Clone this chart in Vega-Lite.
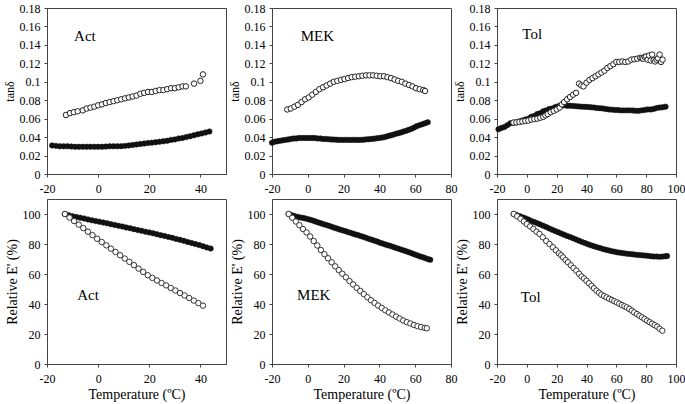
{
  "$schema": "https://vega.github.io/schema/vega-lite/v6.json",
  "padding": {"left": 2, "top": 1, "right": 0, "bottom": 2},
  "background": "white",
  "bounds": "flush",
  "columns": 3,
  "spacing": {"row": 25, "column": 46},
  "config": {
    "font": "Times New Roman",
    "style": {"guide-label": {"font": "Times New Roman"}, "guide-title": {"font": "Times New Roman"}},
    "view": {"stroke": "#444", "strokeWidth": 1},
    "axis": {"labelFont": "Times New Roman", "labelFontSize": 12, "labelColor": "#000", "titleFont": "Times New Roman", "titleFontWeight": "normal", "titleColor": "#000", "titleFontSize": 14, "domainColor": "#444", "tickColor": "#444", "tickSize": 3, "grid": false, "labelFlush": false, "labelOverlap": false},
    "axisX": {"labelPadding": 6, "titlePadding": 3},
    "axisY": {"labelPadding": 4, "titlePadding": 3}
  },
  "datasets": {
    "actTanO": [{"T":-12.6,"v":0.064},{"T":-11,"v":0.066},{"T":-9.5,"v":0.067},{"T":-8,"v":0.068},{"T":-6,"v":0.069},{"T":-4.5,"v":0.071},{"T":-3,"v":0.072},{"T":-1.5,"v":0.073},{"T":0,"v":0.0745},{"T":1.5,"v":0.0755},{"T":3,"v":0.077},{"T":4.5,"v":0.078},{"T":6,"v":0.079},{"T":7.5,"v":0.080},{"T":9,"v":0.081},{"T":10.5,"v":0.082},{"T":12,"v":0.083},{"T":13.5,"v":0.084},{"T":15,"v":0.085},{"T":16.5,"v":0.087},{"T":18,"v":0.088},{"T":19.5,"v":0.089},{"T":21,"v":0.089},{"T":22.5,"v":0.090},{"T":24,"v":0.091},{"T":25.5,"v":0.091},{"T":27,"v":0.092},{"T":28.5,"v":0.093},{"T":30,"v":0.093},{"T":31.5,"v":0.094},{"T":33,"v":0.095},{"T":34.3,"v":0.095},{"T":37.5,"v":0.098},{"T":40,"v":0.101},{"T":41,"v":0.108}],
    "actTanF": [{"T":-18,"v":0.031},{"T":-16.5,"v":0.0305},{"T":-15,"v":0.030},{"T":-13.5,"v":0.030},{"T":-12,"v":0.030},{"T":-10.5,"v":0.0298},{"T":-9,"v":0.0295},{"T":-7.5,"v":0.0295},{"T":-6,"v":0.0295},{"T":-4.5,"v":0.0295},{"T":-3,"v":0.0295},{"T":-1.5,"v":0.0295},{"T":0,"v":0.0295},{"T":1.5,"v":0.0295},{"T":3,"v":0.0297},{"T":4.5,"v":0.030},{"T":6,"v":0.030},{"T":7.5,"v":0.030},{"T":9,"v":0.0302},{"T":10.5,"v":0.0305},{"T":12,"v":0.031},{"T":13.5,"v":0.0315},{"T":15,"v":0.032},{"T":16.5,"v":0.0325},{"T":18,"v":0.033},{"T":19.5,"v":0.0335},{"T":21,"v":0.034},{"T":22.5,"v":0.0345},{"T":24,"v":0.035},{"T":25.5,"v":0.0355},{"T":27,"v":0.036},{"T":28.5,"v":0.037},{"T":30,"v":0.0375},{"T":31.5,"v":0.0385},{"T":33,"v":0.039},{"T":34.5,"v":0.040},{"T":36,"v":0.041},{"T":37.5,"v":0.042},{"T":39,"v":0.043},{"T":40.5,"v":0.044},{"T":42,"v":0.045},{"T":43.5,"v":0.046}],
    "actEO": [{"T":-13,"v":100},{"T":-11.2,"v":97.6},{"T":-9.4,"v":95.3},{"T":-7.6,"v":92.9},{"T":-5.8,"v":90.6},{"T":-4,"v":88.2},{"T":-2.2,"v":85.9},{"T":-0.4,"v":83.5},{"T":1.4,"v":81.3},{"T":3.2,"v":79.1},{"T":5,"v":76.9},{"T":6.8,"v":74.7},{"T":8.6,"v":72.5},{"T":10.4,"v":70.3},{"T":12.2,"v":68.1},{"T":14,"v":65.9},{"T":15.8,"v":63.6},{"T":17.6,"v":61.4},{"T":19.4,"v":59.2},{"T":21.2,"v":57.4},{"T":23,"v":55.7},{"T":24.8,"v":54},{"T":26.6,"v":52.4},{"T":28.4,"v":50.7},{"T":30.2,"v":49},{"T":32,"v":47.3},{"T":33.8,"v":45.7},{"T":35.6,"v":44},{"T":37.4,"v":42.3},{"T":39.2,"v":40.6},{"T":41,"v":38.9}],
    "actEF": [{"T":-13,"v":100},{"T":-11.5,"v":99.2},{"T":-10,"v":98.5},{"T":-8.5,"v":98},{"T":-7,"v":97.5},{"T":-5.5,"v":97},{"T":-4,"v":96.4},{"T":-2.5,"v":95.8},{"T":-1,"v":95.3},{"T":0.5,"v":94.8},{"T":2,"v":94.3},{"T":3.5,"v":93.8},{"T":5,"v":93.2},{"T":6.5,"v":92.7},{"T":8,"v":92.1},{"T":9.5,"v":91.6},{"T":11,"v":91},{"T":12.5,"v":90.5},{"T":14,"v":89.9},{"T":15.5,"v":89.3},{"T":17,"v":88.8},{"T":18.5,"v":88.2},{"T":20,"v":87.7},{"T":21.5,"v":87.1},{"T":23,"v":86.5},{"T":24.5,"v":85.9},{"T":26,"v":85.3},{"T":27.5,"v":84.7},{"T":29,"v":84.1},{"T":30.5,"v":83.4},{"T":32,"v":82.8},{"T":33.5,"v":82.1},{"T":35,"v":81.4},{"T":36.5,"v":80.7},{"T":38,"v":80},{"T":39.5,"v":79.3},{"T":41,"v":78.5},{"T":42.5,"v":77.7},{"T":44,"v":77}],
    "mekTanO": [{"T":-11.5,"v":0.070},{"T":-9.5,"v":0.071},{"T":-7.5,"v":0.073},{"T":-5.5,"v":0.075},{"T":-3.5,"v":0.078},{"T":-1.5,"v":0.081},{"T":0.5,"v":0.083},{"T":2.5,"v":0.086},{"T":4.5,"v":0.089},{"T":6.5,"v":0.092},{"T":8.5,"v":0.094},{"T":10.5,"v":0.096},{"T":12.5,"v":0.098},{"T":14.5,"v":0.100},{"T":16.5,"v":0.101},{"T":18.5,"v":0.102},{"T":20.5,"v":0.103},{"T":22.5,"v":0.104},{"T":24.5,"v":0.105},{"T":26.5,"v":0.1055},{"T":28.5,"v":0.106},{"T":30.5,"v":0.1065},{"T":32.5,"v":0.107},{"T":34.5,"v":0.107},{"T":36.5,"v":0.107},{"T":38.5,"v":0.1065},{"T":40.5,"v":0.106},{"T":42.5,"v":0.106},{"T":44.5,"v":0.105},{"T":46.5,"v":0.104},{"T":48.5,"v":0.1025},{"T":50.5,"v":0.101},{"T":52.5,"v":0.100},{"T":54.5,"v":0.098},{"T":56.5,"v":0.0965},{"T":58.5,"v":0.095},{"T":60.5,"v":0.093},{"T":62.5,"v":0.092},{"T":64.5,"v":0.091},{"T":65.5,"v":0.090}],
    "mekTanF": [{"T":-20,"v":0.034},{"T":-18.5,"v":0.035},{"T":-17,"v":0.0355},{"T":-15.5,"v":0.036},{"T":-14,"v":0.0365},{"T":-12.5,"v":0.037},{"T":-11,"v":0.0375},{"T":-9.5,"v":0.038},{"T":-8,"v":0.0385},{"T":-6.5,"v":0.0385},{"T":-5,"v":0.039},{"T":-3.5,"v":0.039},{"T":-2,"v":0.039},{"T":-0.5,"v":0.039},{"T":1,"v":0.039},{"T":2.5,"v":0.039},{"T":4,"v":0.039},{"T":5.5,"v":0.0385},{"T":7,"v":0.0385},{"T":8.5,"v":0.038},{"T":10,"v":0.038},{"T":11.5,"v":0.0378},{"T":13,"v":0.0375},{"T":14.5,"v":0.0373},{"T":16,"v":0.0372},{"T":17.5,"v":0.037},{"T":19,"v":0.037},{"T":20.5,"v":0.037},{"T":22,"v":0.037},{"T":23.5,"v":0.037},{"T":25,"v":0.037},{"T":26.5,"v":0.037},{"T":28,"v":0.037},{"T":29.5,"v":0.037},{"T":31,"v":0.0372},{"T":32.5,"v":0.0375},{"T":34,"v":0.0378},{"T":35.5,"v":0.038},{"T":37,"v":0.0383},{"T":38.5,"v":0.0387},{"T":40,"v":0.039},{"T":41.5,"v":0.0395},{"T":43,"v":0.040},{"T":44.5,"v":0.041},{"T":46,"v":0.0418},{"T":47.5,"v":0.0425},{"T":49,"v":0.0435},{"T":50.5,"v":0.0443},{"T":52,"v":0.045},{"T":53.5,"v":0.046},{"T":55,"v":0.047},{"T":56.5,"v":0.048},{"T":58,"v":0.049},{"T":59.5,"v":0.0505},{"T":61,"v":0.052},{"T":62.5,"v":0.053},{"T":64,"v":0.054},{"T":65.5,"v":0.055},{"T":67,"v":0.056}],
    "mekEO": [{"T":-10.7,"v":100},{"T":-8.7,"v":97.5},{"T":-6.7,"v":95},{"T":-4.7,"v":92.5},{"T":-2.7,"v":90},{"T":-0.7,"v":87.7},{"T":1.3,"v":85},{"T":3.3,"v":82},{"T":5.3,"v":79},{"T":7.3,"v":76},{"T":9.3,"v":73.2},{"T":11.3,"v":70.5},{"T":13.3,"v":67.8},{"T":15.3,"v":65.1},{"T":17.3,"v":62.6},{"T":19.3,"v":60.2},{"T":21.3,"v":57.8},{"T":23.3,"v":55.3},{"T":25.3,"v":53},{"T":27.3,"v":50.8},{"T":29.3,"v":48.7},{"T":31.3,"v":46.6},{"T":33.3,"v":44.5},{"T":35.3,"v":42.5},{"T":37.3,"v":40.7},{"T":39.3,"v":39},{"T":41.3,"v":37.4},{"T":43.3,"v":35.8},{"T":45.3,"v":34.4},{"T":47.3,"v":33},{"T":49.3,"v":31.6},{"T":51.3,"v":30.3},{"T":53.3,"v":29},{"T":55.3,"v":27.9},{"T":57.3,"v":27},{"T":59.3,"v":26},{"T":61.3,"v":25.2},{"T":63.3,"v":24.6},{"T":65.3,"v":24.1},{"T":66.5,"v":23.8}],
    "mekEF": [{"T":-10.7,"v":100},{"T":-9.2,"v":99.3},{"T":-7.7,"v":98.7},{"T":-6.2,"v":98.2},{"T":-4.7,"v":97.8},{"T":-3.2,"v":97.5},{"T":-1.7,"v":97.1},{"T":-0.2,"v":96.7},{"T":1.3,"v":96.2},{"T":2.8,"v":95.6},{"T":4.3,"v":95},{"T":5.8,"v":94.4},{"T":7.3,"v":93.8},{"T":8.8,"v":93.2},{"T":10.3,"v":92.7},{"T":11.8,"v":92.1},{"T":13.3,"v":91.5},{"T":14.8,"v":90.9},{"T":16.3,"v":90.3},{"T":17.8,"v":89.7},{"T":19.3,"v":89.1},{"T":20.8,"v":88.6},{"T":22.3,"v":88},{"T":23.8,"v":87.5},{"T":25.3,"v":86.9},{"T":26.8,"v":86.3},{"T":28.3,"v":85.8},{"T":29.8,"v":85.2},{"T":31.3,"v":84.6},{"T":32.8,"v":84},{"T":34.3,"v":83.4},{"T":35.8,"v":82.8},{"T":37.3,"v":82.2},{"T":38.8,"v":81.6},{"T":40.3,"v":80.9},{"T":41.8,"v":80.3},{"T":43.3,"v":79.7},{"T":44.8,"v":79.1},{"T":46.3,"v":78.6},{"T":47.8,"v":78},{"T":49.3,"v":77.4},{"T":50.8,"v":76.8},{"T":52.3,"v":76.2},{"T":53.8,"v":75.6},{"T":55.3,"v":75},{"T":56.8,"v":74.4},{"T":58.3,"v":73.7},{"T":59.8,"v":73},{"T":61.3,"v":72.4},{"T":62.8,"v":71.7},{"T":64.3,"v":71.1},{"T":65.8,"v":70.5},{"T":67.3,"v":69.9},{"T":68.4,"v":69.5}],
    "tolTanO": [{"T":-9,"v":0.0558},{"T":-7,"v":0.056},{"T":-5,"v":0.0565},{"T":-3,"v":0.057},{"T":-1,"v":0.0575},{"T":1,"v":0.058},{"T":3,"v":0.059},{"T":5,"v":0.0595},{"T":7,"v":0.060},{"T":9,"v":0.061},{"T":11,"v":0.062},{"T":12.5,"v":0.0635},{"T":14,"v":0.065},{"T":16,"v":0.067},{"T":18,"v":0.0685},{"T":20,"v":0.070},{"T":22,"v":0.072},{"T":23.5,"v":0.0755},{"T":25,"v":0.078},{"T":27,"v":0.081},{"T":29,"v":0.0835},{"T":31,"v":0.086},{"T":33,"v":0.088},{"T":35,"v":0.098},{"T":36.5,"v":0.096},{"T":38,"v":0.095},{"T":40,"v":0.099},{"T":42,"v":0.102},{"T":44,"v":0.104},{"T":46,"v":0.106},{"T":48,"v":0.108},{"T":50,"v":0.110},{"T":52,"v":0.112},{"T":54,"v":0.115},{"T":56,"v":0.117},{"T":58,"v":0.119},{"T":60,"v":0.1215},{"T":62,"v":0.1215},{"T":64,"v":0.122},{"T":66,"v":0.1215},{"T":68,"v":0.122},{"T":70,"v":0.124},{"T":72,"v":0.1245},{"T":74,"v":0.125},{"T":76,"v":0.126},{"T":77,"v":0.1255},{"T":78,"v":0.125},{"T":79,"v":0.127},{"T":80,"v":0.1275},{"T":81,"v":0.124},{"T":82,"v":0.1285},{"T":83,"v":0.123},{"T":84,"v":0.1295},{"T":85,"v":0.1235},{"T":86,"v":0.122},{"T":87,"v":0.124},{"T":88,"v":0.1255},{"T":89,"v":0.1295},{"T":90,"v":0.1215},{"T":91,"v":0.124}],
    "tolTanF": [{"T":-19,"v":0.0485},{"T":-17,"v":0.050},{"T":-15,"v":0.051},{"T":-13,"v":0.053},{"T":-11,"v":0.055},{"T":-9,"v":0.0555},{"T":-7,"v":0.056},{"T":-5,"v":0.057},{"T":-3,"v":0.058},{"T":-1,"v":0.059},{"T":1,"v":0.060},{"T":3,"v":0.062},{"T":5,"v":0.063},{"T":7,"v":0.065},{"T":9,"v":0.066},{"T":11,"v":0.068},{"T":13,"v":0.069},{"T":15,"v":0.0705},{"T":17,"v":0.071},{"T":19,"v":0.0725},{"T":21,"v":0.0735},{"T":23,"v":0.074},{"T":25,"v":0.0745},{"T":27,"v":0.074},{"T":29,"v":0.074},{"T":31,"v":0.0738},{"T":33,"v":0.0735},{"T":35,"v":0.0733},{"T":37,"v":0.073},{"T":39,"v":0.0728},{"T":41,"v":0.0727},{"T":43,"v":0.0723},{"T":45,"v":0.072},{"T":47,"v":0.0716},{"T":49,"v":0.0713},{"T":51,"v":0.071},{"T":53,"v":0.0705},{"T":55,"v":0.070},{"T":57,"v":0.0698},{"T":59,"v":0.0695},{"T":61,"v":0.0693},{"T":63,"v":0.069},{"T":65,"v":0.069},{"T":67,"v":0.069},{"T":69,"v":0.069},{"T":71,"v":0.0688},{"T":73,"v":0.0685},{"T":75,"v":0.0685},{"T":77,"v":0.069},{"T":79,"v":0.0695},{"T":81,"v":0.070},{"T":83,"v":0.070},{"T":85,"v":0.0705},{"T":87,"v":0.0715},{"T":89,"v":0.072},{"T":91,"v":0.0723},{"T":93,"v":0.073}],
    "tolEO": [{"T":-8.8,"v":100},{"T":-6.5,"v":98.5},{"T":-4.2,"v":96.8},{"T":-2,"v":95},{"T":0,"v":93.3},{"T":2.2,"v":91.7},{"T":4.4,"v":90},{"T":6.5,"v":88.2},{"T":8.5,"v":86.7},{"T":10.7,"v":84.5},{"T":13,"v":82},{"T":15.2,"v":80},{"T":17.5,"v":77.8},{"T":19.5,"v":75.8},{"T":21.5,"v":73.8},{"T":23,"v":72.5},{"T":24.3,"v":71.1},{"T":26,"v":69.3},{"T":27.6,"v":67.8},{"T":29.5,"v":65.8},{"T":31.3,"v":64},{"T":33.2,"v":62.2},{"T":35,"v":60.2},{"T":36.7,"v":58.3},{"T":38.4,"v":57},{"T":40,"v":55.5},{"T":41.7,"v":53.8},{"T":43.4,"v":52.1},{"T":45,"v":50.5},{"T":46.7,"v":48.9},{"T":48.4,"v":47.5},{"T":50,"v":46.2},{"T":51.8,"v":45.3},{"T":53.5,"v":44.4},{"T":55.2,"v":43.5},{"T":57,"v":42.7},{"T":58.6,"v":41.9},{"T":60.3,"v":41.1},{"T":62,"v":40.2},{"T":63.7,"v":39.3},{"T":65.4,"v":38.5},{"T":67,"v":37.8},{"T":68.7,"v":36.7},{"T":70.4,"v":35.5},{"T":72,"v":34.4},{"T":73.8,"v":33.3},{"T":75.5,"v":32.2},{"T":77.2,"v":31.1},{"T":78.9,"v":30},{"T":80.6,"v":28.9},{"T":82.3,"v":27.9},{"T":84,"v":26.9},{"T":85.7,"v":25.9},{"T":87.4,"v":24.9},{"T":89,"v":23.5},{"T":90.8,"v":22.2}],
    "tolEF": [{"T":-8.8,"v":100},{"T":-7,"v":99.3},{"T":-5,"v":98.6},{"T":-3,"v":97.8},{"T":-1,"v":97.1},{"T":1,"v":96.3},{"T":3,"v":95.4},{"T":5,"v":94.6},{"T":7,"v":93.8},{"T":9,"v":93},{"T":11,"v":92.1},{"T":13,"v":91.3},{"T":15,"v":90.4},{"T":17,"v":89.5},{"T":19,"v":88.6},{"T":21,"v":87.8},{"T":23,"v":87},{"T":25,"v":86.2},{"T":27,"v":85.4},{"T":29,"v":84.6},{"T":31,"v":83.8},{"T":33,"v":83},{"T":35,"v":82.2},{"T":37,"v":81.4},{"T":39,"v":80.6},{"T":41,"v":79.8},{"T":43,"v":79.1},{"T":45,"v":78.5},{"T":47,"v":77.9},{"T":49,"v":77.3},{"T":51,"v":76.7},{"T":53,"v":76.2},{"T":55,"v":75.7},{"T":57,"v":75.2},{"T":59,"v":74.8},{"T":61,"v":74.4},{"T":63,"v":74.1},{"T":65,"v":73.8},{"T":67,"v":73.5},{"T":69,"v":73.3},{"T":71,"v":73.1},{"T":73,"v":72.9},{"T":75,"v":72.7},{"T":77,"v":72.5},{"T":79,"v":72.3},{"T":81,"v":72.1},{"T":83,"v":71.9},{"T":85,"v":71.7},{"T":87,"v":71.6},{"T":89,"v":71.5},{"T":91,"v":71.6},{"T":93,"v":71.8},{"T":94,"v":72}],
    "lblAct": [{"label": "Act"}],
    "lblMEK": [{"label": "MEK"}],
    "lblTol": [{"label": "Tol"}]
  },
  "concat": [
    {
      "width": 179, "height": 166,
      "layer": [
        {"data": {"name": "actTanF"}, "mark": {"type": "circle", "size": 30, "fill": "#111", "stroke": "#111", "strokeWidth": 0.5, "opacity": 1},
         "encoding": {
          "x": {"field": "T", "type": "quantitative", "scale": {"domain": [-20, 50], "nice": false, "zero": false}, "axis": {"title": null, "values": [-20, 0, 20, 40], "labelExpr": "datum.value + ''", "labelOverlap": false}},
          "y": {"field": "v", "type": "quantitative", "scale": {"domain": [0, 0.18], "nice": false}, "axis": {"title": "tanδ", "titleFontSize": 12, "values": [0, 0.02, 0.04, 0.06, 0.08, 0.1, 0.12, 0.14, 0.16, 0.18], "labelExpr": "datum.value + ''", "labelOverlap": false}}}},
        {"data": {"name": "actTanO"}, "mark": {"type": "circle", "size": 30, "fill": "white", "stroke": "#222", "strokeWidth": 1, "opacity": 1},
         "encoding": {
          "x": {"field": "T", "type": "quantitative", "scale": {"domain": [-20, 50], "nice": false, "zero": false}, "axis": {"title": null, "values": [-20, 0, 20, 40], "labelExpr": "datum.value + ''", "labelOverlap": false}},
          "y": {"field": "v", "type": "quantitative", "scale": {"domain": [0, 0.18], "nice": false}, "axis": {"title": "tanδ", "titleFontSize": 12, "values": [0, 0.02, 0.04, 0.06, 0.08, 0.1, 0.12, 0.14, 0.16, 0.18], "labelExpr": "datum.value + ''", "labelOverlap": false}}}},
        {"data": {"name": "lblAct"}, "mark": {"type": "text", "font": "Times New Roman", "fontSize": 15, "align": "left", "baseline": "middle", "fill": "#000"},
         "encoding": {
          "x": {"datum": -9.4, "type": "quantitative", "scale": {"domain": [-20, 50], "nice": false, "zero": false}, "axis": {"title": null, "values": [-20, 0, 20, 40], "labelExpr": "datum.value + ''", "labelOverlap": false}},
          "y": {"datum": 0.15, "type": "quantitative", "scale": {"domain": [0, 0.18], "nice": false}, "axis": {"title": "tanδ", "titleFontSize": 12, "values": [0, 0.02, 0.04, 0.06, 0.08, 0.1, 0.12, 0.14, 0.16, 0.18], "labelExpr": "datum.value + ''", "labelOverlap": false}},
          "text": {"field": "label", "type": "nominal"}}}
      ]
    },
    {
      "width": 179, "height": 166,
      "layer": [
        {"data": {"name": "mekTanF"}, "mark": {"type": "circle", "size": 30, "fill": "#111", "stroke": "#111", "strokeWidth": 0.5, "opacity": 1},
         "encoding": {
          "x": {"field": "T", "type": "quantitative", "scale": {"domain": [-20, 80], "nice": false, "zero": false}, "axis": {"title": null, "values": [-20, 0, 20, 40, 60, 80], "labelExpr": "datum.value + ''", "labelOverlap": false}},
          "y": {"field": "v", "type": "quantitative", "scale": {"domain": [0, 0.18], "nice": false}, "axis": {"title": "tanδ", "titleFontSize": 12, "values": [0, 0.02, 0.04, 0.06, 0.08, 0.1, 0.12, 0.14, 0.16, 0.18], "labelExpr": "datum.value + ''", "labelOverlap": false}}}},
        {"data": {"name": "mekTanO"}, "mark": {"type": "circle", "size": 30, "fill": "white", "stroke": "#222", "strokeWidth": 1, "opacity": 1},
         "encoding": {
          "x": {"field": "T", "type": "quantitative", "scale": {"domain": [-20, 80], "nice": false, "zero": false}, "axis": {"title": null, "values": [-20, 0, 20, 40, 60, 80], "labelExpr": "datum.value + ''", "labelOverlap": false}},
          "y": {"field": "v", "type": "quantitative", "scale": {"domain": [0, 0.18], "nice": false}, "axis": {"title": "tanδ", "titleFontSize": 12, "values": [0, 0.02, 0.04, 0.06, 0.08, 0.1, 0.12, 0.14, 0.16, 0.18], "labelExpr": "datum.value + ''", "labelOverlap": false}}}},
        {"data": {"name": "lblMEK"}, "mark": {"type": "text", "font": "Times New Roman", "fontSize": 15, "align": "left", "baseline": "middle", "fill": "#000"},
         "encoding": {
          "x": {"datum": -4, "type": "quantitative", "scale": {"domain": [-20, 80], "nice": false, "zero": false}, "axis": {"title": null, "values": [-20, 0, 20, 40, 60, 80], "labelExpr": "datum.value + ''", "labelOverlap": false}},
          "y": {"datum": 0.15, "type": "quantitative", "scale": {"domain": [0, 0.18], "nice": false}, "axis": {"title": "tanδ", "titleFontSize": 12, "values": [0, 0.02, 0.04, 0.06, 0.08, 0.1, 0.12, 0.14, 0.16, 0.18], "labelExpr": "datum.value + ''", "labelOverlap": false}},
          "text": {"field": "label", "type": "nominal"}}}
      ]
    },
    {
      "width": 179, "height": 166,
      "layer": [
        {"data": {"name": "tolTanF"}, "mark": {"type": "circle", "size": 30, "fill": "#111", "stroke": "#111", "strokeWidth": 0.5, "opacity": 1},
         "encoding": {
          "x": {"field": "T", "type": "quantitative", "scale": {"domain": [-20, 100], "nice": false, "zero": false}, "axis": {"title": null, "values": [-20, 0, 20, 40, 60, 80, 100], "labelExpr": "datum.value + ''", "labelOverlap": false}},
          "y": {"field": "v", "type": "quantitative", "scale": {"domain": [0, 0.18], "nice": false}, "axis": {"title": "tanδ", "titleFontSize": 12, "values": [0, 0.02, 0.04, 0.06, 0.08, 0.1, 0.12, 0.14, 0.16, 0.18], "labelExpr": "datum.value + ''", "labelOverlap": false}}}},
        {"data": {"name": "tolTanO"}, "mark": {"type": "circle", "size": 30, "fill": "white", "stroke": "#222", "strokeWidth": 1, "opacity": 1},
         "encoding": {
          "x": {"field": "T", "type": "quantitative", "scale": {"domain": [-20, 100], "nice": false, "zero": false}, "axis": {"title": null, "values": [-20, 0, 20, 40, 60, 80, 100], "labelExpr": "datum.value + ''", "labelOverlap": false}},
          "y": {"field": "v", "type": "quantitative", "scale": {"domain": [0, 0.18], "nice": false}, "axis": {"title": "tanδ", "titleFontSize": 12, "values": [0, 0.02, 0.04, 0.06, 0.08, 0.1, 0.12, 0.14, 0.16, 0.18], "labelExpr": "datum.value + ''", "labelOverlap": false}}}},
        {"data": {"name": "lblTol"}, "mark": {"type": "text", "font": "Times New Roman", "fontSize": 15, "align": "left", "baseline": "middle", "fill": "#000"},
         "encoding": {
          "x": {"datum": -3, "type": "quantitative", "scale": {"domain": [-20, 100], "nice": false, "zero": false}, "axis": {"title": null, "values": [-20, 0, 20, 40, 60, 80, 100], "labelExpr": "datum.value + ''", "labelOverlap": false}},
          "y": {"datum": 0.152, "type": "quantitative", "scale": {"domain": [0, 0.18], "nice": false}, "axis": {"title": "tanδ", "titleFontSize": 12, "values": [0, 0.02, 0.04, 0.06, 0.08, 0.1, 0.12, 0.14, 0.16, 0.18], "labelExpr": "datum.value + ''", "labelOverlap": false}},
          "text": {"field": "label", "type": "nominal"}}}
      ]
    },
    {
      "width": 179, "height": 165,
      "layer": [
        {"data": {"name": "actEF"}, "mark": {"type": "circle", "size": 30, "fill": "#111", "stroke": "#111", "strokeWidth": 0.5, "opacity": 1},
         "encoding": {
          "x": {"field": "T", "type": "quantitative", "scale": {"domain": [-20, 50], "nice": false, "zero": false}, "axis": {"title": "Temperature (ºC)", "values": [-20, 0, 20, 40], "labelExpr": "datum.value + ''", "labelOverlap": false}},
          "y": {"field": "v", "type": "quantitative", "scale": {"domain": [0, 110], "nice": false}, "axis": {"title": "Relative E' (%)", "values": [0, 20, 40, 60, 80, 100], "labelOverlap": false}}}},
        {"data": {"name": "actEO"}, "mark": {"type": "circle", "size": 30, "fill": "white", "stroke": "#333", "strokeWidth": 1, "opacity": 1},
         "encoding": {
          "x": {"field": "T", "type": "quantitative", "scale": {"domain": [-20, 50], "nice": false, "zero": false}, "axis": {"title": "Temperature (ºC)", "values": [-20, 0, 20, 40], "labelExpr": "datum.value + ''", "labelOverlap": false}},
          "y": {"field": "v", "type": "quantitative", "scale": {"domain": [0, 110], "nice": false}, "axis": {"title": "Relative E' (%)", "values": [0, 20, 40, 60, 80, 100], "labelOverlap": false}}}},
        {"data": {"name": "lblAct"}, "mark": {"type": "text", "font": "Times New Roman", "fontSize": 15, "align": "left", "baseline": "middle", "fill": "#000"},
         "encoding": {
          "x": {"datum": -8.2, "type": "quantitative", "scale": {"domain": [-20, 50], "nice": false, "zero": false}, "axis": {"title": "Temperature (ºC)", "values": [-20, 0, 20, 40], "labelExpr": "datum.value + ''", "labelOverlap": false}},
          "y": {"datum": 46, "type": "quantitative", "scale": {"domain": [0, 110], "nice": false}, "axis": {"title": "Relative E' (%)", "values": [0, 20, 40, 60, 80, 100], "labelOverlap": false}},
          "text": {"field": "label", "type": "nominal"}}}
      ]
    },
    {
      "width": 179, "height": 165,
      "layer": [
        {"data": {"name": "mekEF"}, "mark": {"type": "circle", "size": 30, "fill": "#111", "stroke": "#111", "strokeWidth": 0.5, "opacity": 1},
         "encoding": {
          "x": {"field": "T", "type": "quantitative", "scale": {"domain": [-20, 80], "nice": false, "zero": false}, "axis": {"title": "Temperature (ºC)", "values": [-20, 0, 20, 40, 60, 80], "labelExpr": "datum.value + ''", "labelOverlap": false}},
          "y": {"field": "v", "type": "quantitative", "scale": {"domain": [0, 110], "nice": false}, "axis": {"title": "Relative E' (%)", "values": [0, 20, 40, 60, 80, 100], "labelOverlap": false}}}},
        {"data": {"name": "mekEO"}, "mark": {"type": "circle", "size": 30, "fill": "white", "stroke": "#333", "strokeWidth": 1, "opacity": 1},
         "encoding": {
          "x": {"field": "T", "type": "quantitative", "scale": {"domain": [-20, 80], "nice": false, "zero": false}, "axis": {"title": "Temperature (ºC)", "values": [-20, 0, 20, 40, 60, 80], "labelExpr": "datum.value + ''", "labelOverlap": false}},
          "y": {"field": "v", "type": "quantitative", "scale": {"domain": [0, 110], "nice": false}, "axis": {"title": "Relative E' (%)", "values": [0, 20, 40, 60, 80, 100], "labelOverlap": false}}}},
        {"data": {"name": "lblMEK"}, "mark": {"type": "text", "font": "Times New Roman", "fontSize": 15, "align": "left", "baseline": "middle", "fill": "#000"},
         "encoding": {
          "x": {"datum": -6, "type": "quantitative", "scale": {"domain": [-20, 80], "nice": false, "zero": false}, "axis": {"title": "Temperature (ºC)", "values": [-20, 0, 20, 40, 60, 80], "labelExpr": "datum.value + ''", "labelOverlap": false}},
          "y": {"datum": 46, "type": "quantitative", "scale": {"domain": [0, 110], "nice": false}, "axis": {"title": "Relative E' (%)", "values": [0, 20, 40, 60, 80, 100], "labelOverlap": false}},
          "text": {"field": "label", "type": "nominal"}}}
      ]
    },
    {
      "width": 179, "height": 165,
      "layer": [
        {"data": {"name": "tolEF"}, "mark": {"type": "circle", "size": 30, "fill": "#111", "stroke": "#111", "strokeWidth": 0.5, "opacity": 1},
         "encoding": {
          "x": {"field": "T", "type": "quantitative", "scale": {"domain": [-20, 100], "nice": false, "zero": false}, "axis": {"title": "Temperature (ºC)", "values": [-20, 0, 20, 40, 60, 80, 100], "labelExpr": "datum.value + ''", "labelOverlap": false}},
          "y": {"field": "v", "type": "quantitative", "scale": {"domain": [0, 110], "nice": false}, "axis": {"title": "Relative E' (%)", "values": [0, 20, 40, 60, 80, 100], "labelOverlap": false}}}},
        {"data": {"name": "tolEO"}, "mark": {"type": "circle", "size": 30, "fill": "white", "stroke": "#333", "strokeWidth": 1, "opacity": 1},
         "encoding": {
          "x": {"field": "T", "type": "quantitative", "scale": {"domain": [-20, 100], "nice": false, "zero": false}, "axis": {"title": "Temperature (ºC)", "values": [-20, 0, 20, 40, 60, 80, 100], "labelExpr": "datum.value + ''", "labelOverlap": false}},
          "y": {"field": "v", "type": "quantitative", "scale": {"domain": [0, 110], "nice": false}, "axis": {"title": "Relative E' (%)", "values": [0, 20, 40, 60, 80, 100], "labelOverlap": false}}}},
        {"data": {"name": "lblTol"}, "mark": {"type": "text", "font": "Times New Roman", "fontSize": 15, "align": "left", "baseline": "middle", "fill": "#000"},
         "encoding": {
          "x": {"datum": -4, "type": "quantitative", "scale": {"domain": [-20, 100], "nice": false, "zero": false}, "axis": {"title": "Temperature (ºC)", "values": [-20, 0, 20, 40, 60, 80, 100], "labelExpr": "datum.value + ''", "labelOverlap": false}},
          "y": {"datum": 45, "type": "quantitative", "scale": {"domain": [0, 110], "nice": false}, "axis": {"title": "Relative E' (%)", "values": [0, 20, 40, 60, 80, 100], "labelOverlap": false}},
          "text": {"field": "label", "type": "nominal"}}}
      ]
    }
  ]
}
